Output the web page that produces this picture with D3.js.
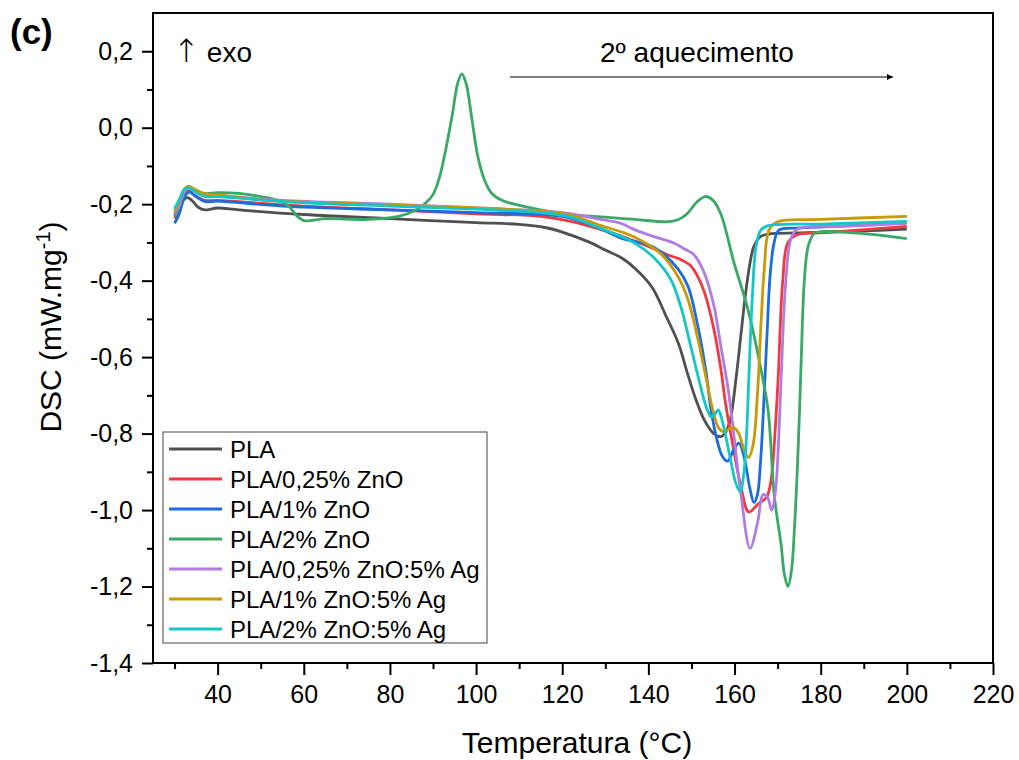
<!DOCTYPE html>
<html>
<head>
<meta charset="utf-8">
<script src="https://cdn.jsdelivr.net/npm/d3@7"></script>
<style>
  body { margin: 0; background: #fff; }
  svg { font-family: "Liberation Sans", Arial, sans-serif; }
</style>
</head>
<body>
<svg width="1019" height="760"></svg>
<script>
// series names and colors
var seriesNames = ["PLA", "PLA/0,25% ZnO", "PLA/1% ZnO", "PLA/2% ZnO",
                   "PLA/0,25% ZnO:5% Ag", "PLA/1% ZnO:5% Ag", "PLA/2% ZnO:5% Ag"];
var seriesColors = ["#505050", "#ef3b3f", "#1c6be0", "#3aa866", "#b07ce4", "#c99a08", "#14c6c8"];

var xTicks = [40, 60, 80, 100, 120, 140, 160, 180, 200, 220];
var xMinor = [30, 50, 70, 90, 110, 130, 150, 170, 190, 210];
var yTicks = [-1.4, -1.2, -1.0, -0.8, -0.6, -0.4, -0.2, 0.0, 0.2];
var yMinor = [-1.3, -1.1, -0.9, -0.7, -0.5, -0.3, -0.1, 0.1];

// [temperature, DSC]
var pla = [[30,-0.228],[31,-0.212],[32,-0.19],[33,-0.183],[34,-0.19],[35.5,-0.208],[37,-0.215],[40,-0.21],
  [45,-0.215],[60,-0.227],[80,-0.238],[100,-0.248],[110,-0.253],[116,-0.261],[120,-0.273],[126,-0.298],
  [130,-0.32],[134,-0.342],[138,-0.38],[141,-0.42],[144,-0.49],[147,-0.565],[149,-0.64],[151,-0.71],
  [153,-0.765],[155,-0.798],[156.8,-0.808],[158,-0.795],[159,-0.765],[160.3,-0.66],[161.5,-0.54],
  [162.5,-0.44],[163.5,-0.36],[164.5,-0.31],[166,-0.285],[168,-0.278],[175,-0.275],[190,-0.27],[200,-0.265]];

var zno025 = [[30,-0.238],[31,-0.215],[32.3,-0.175],[33.3,-0.165],[34.5,-0.175],[37,-0.19],[40,-0.19],
  [60,-0.205],[80,-0.215],[100,-0.225],[115,-0.232],[122,-0.245],[130,-0.27],[136,-0.293],[141,-0.315],
  [145,-0.335],[147,-0.342],[149.7,-0.36],[151.5,-0.39],[153,-0.43],[155.2,-0.527],[156.8,-0.63],
  [157.9,-0.72],[159.6,-0.83],[161.5,-0.94],[163.3,-1.005],[165.4,-0.985],[167.5,-0.965],[168.5,-0.92],
  [169.2,-0.83],[170.1,-0.66],[171.2,-0.4],[172.4,-0.3],[174.6,-0.28],[180,-0.275],[200,-0.258]];

var zno1 = [[30,-0.25],[31,-0.228],[32.4,-0.18],[33.5,-0.168],[34.7,-0.178],[37,-0.193],[40,-0.192],
  [55,-0.205],[80,-0.215],[100,-0.222],[120,-0.232],[128,-0.26],[134,-0.29],[137,-0.298],[139,-0.302],
  [142.9,-0.325],[146.9,-0.37],[149.2,-0.415],[151.5,-0.52],[153.4,-0.64],[154.5,-0.735],[156,-0.82],
  [157.2,-0.86],[158.4,-0.872],[159.7,-0.845],[161,-0.825],[162.2,-0.86],[163.5,-0.94],[164.5,-0.98],
  [165.3,-0.96],[166,-0.88],[166.7,-0.74],[167.5,-0.55],[168.3,-0.38],[169.2,-0.3],[170.3,-0.268],
  [175,-0.262],[190,-0.255],[200,-0.248]];

var zno2 = [[30,-0.232],[31,-0.21],[32.4,-0.165],[33.5,-0.155],[34.7,-0.162],[37,-0.172],[40,-0.17],
  [45,-0.172],[50,-0.18],[54,-0.19],[56.5,-0.205],[58.5,-0.232],[60,-0.243],[62,-0.242],[65,-0.238],
  [75,-0.24],[82,-0.232],[86,-0.215],[88,-0.2],[90,-0.175],[91.5,-0.13],[93,-0.055],[94.5,0.035],
  [95.7,0.115],[96.7,0.141],[97.7,0.115],[99,0.025],[100.4,-0.075],[102,-0.138],[103.5,-0.17],
  [106,-0.19],[110,-0.203],[121,-0.226],[130,-0.234],[137,-0.24],[144.5,-0.246],[147,-0.24],
  [149,-0.225],[151.2,-0.195],[153.2,-0.18],[155,-0.19],[156.8,-0.225],[159.8,-0.35],[163.1,-0.475],
  [166.1,-0.63],[167.8,-0.74],[169.2,-0.96],[170.8,-1.09],[171.6,-1.17],[172.4,-1.2],[173.2,-1.16],
  [173.9,-1.05],[174.8,-0.83],[175.5,-0.6],[176.2,-0.4],[177.1,-0.31],[178.5,-0.276],[180,-0.272],
  [190,-0.277],[200,-0.29]];

var zno025ag = [[30,-0.225],[31,-0.205],[32.4,-0.165],[33.5,-0.158],[34.7,-0.165],[37,-0.177],[40,-0.178],
  [55,-0.19],[80,-0.2],[100,-0.21],[120,-0.222],[129,-0.24],[133.6,-0.25],[136.6,-0.266],[141.3,-0.285],
  [146,-0.302],[148.5,-0.318],[150.4,-0.33],[152.8,-0.375],[155.2,-0.465],[156.8,-0.57],[158.4,-0.675],
  [159.6,-0.78],[160.6,-0.88],[161.5,-0.96],[163.6,-1.1],[165.4,-1.03],[166.6,-0.96],[167.6,-0.965],
  [168.6,-1.0],[169.5,-0.95],[170.1,-0.85],[170.8,-0.66],[171.9,-0.4],[173.1,-0.29],[174.6,-0.265],
  [185,-0.258],[200,-0.25]];

var zno1ag = [[30,-0.22],[31,-0.195],[32.3,-0.16],[33.3,-0.153],[34.5,-0.16],[36.7,-0.172],[40,-0.176],
  [52,-0.19],[80,-0.202],[105,-0.212],[121.3,-0.227],[129,-0.256],[136.6,-0.285],[142.9,-0.33],
  [146.9,-0.39],[149.2,-0.45],[151.5,-0.553],[153.4,-0.655],[155,-0.74],[156.3,-0.785],[157.5,-0.795],
  [158.7,-0.788],[159.9,-0.785],[161,-0.8],[162.3,-0.845],[163.3,-0.862],[164.3,-0.83],[165.3,-0.7],
  [166.2,-0.5],[166.9,-0.37],[168,-0.268],[170,-0.246],[180,-0.24],[200,-0.232]];

var zno2ag = [[30,-0.212],[31,-0.19],[32.2,-0.163],[33.2,-0.157],[34.4,-0.165],[37,-0.18],[40,-0.18],
  [55,-0.193],[80,-0.205],[100,-0.213],[115,-0.222],[121.3,-0.232],[129,-0.264],[136.6,-0.3],[141.3,-0.34],
  [145.2,-0.397],[147.5,-0.467],[149.8,-0.57],[151.7,-0.658],[153.6,-0.736],[154.7,-0.757],[155.5,-0.748],
  [156.2,-0.738],[157,-0.76],[159.2,-0.875],[160.3,-0.93],[161.3,-0.952],[162.2,-0.9],[162.8,-0.8],
  [163.3,-0.66],[164.1,-0.45],[165,-0.31],[166.1,-0.268],[167.8,-0.256],[180,-0.252],[200,-0.245]];

var seriesData = [pla, zno025, zno1, zno2, zno025ag, zno1ag, zno2ag];

var L = 153, R = 993, T = 13, B = 663;
var svg = d3.select("svg");

var x = d3.scaleLinear().domain([25, 220]).range([L, R]);
var y = d3.scaleLinear().domain([-1.4, 0.3]).range([B, T]);

var comma = function (d) { return d3.format(".1f")(d).replace(".", ",").replace("\u2212", "-"); };

// curves
var line = d3.line()
    .x(function (d) { return x(d[0]); })
    .y(function (d) { return y(d[1]); })
    .curve(d3.curveCatmullRom.alpha(0.5));

seriesData.forEach(function (s, i) {
    svg.append("path")
        .attr("d", line(s))
        .attr("fill", "none")
        .attr("stroke", seriesColors[i])
        .attr("stroke-width", 2.8)
        .attr("stroke-linejoin", "round");
});

// axes
var xAxis = svg.append("g").attr("transform", "translate(0," + B + ")")
    .call(d3.axisBottom(x).tickValues(xTicks).tickSize(12).tickPadding(10).tickFormat(d3.format("d")));
var xAxisMinor = svg.append("g").attr("transform", "translate(0," + B + ")")
    .call(d3.axisBottom(x).tickValues(xMinor).tickSize(6).tickFormat(""));
var yAxis = svg.append("g").attr("transform", "translate(" + L + ",0)")
    .call(d3.axisLeft(y).tickValues(yTicks).tickSize(11).tickPadding(9).tickFormat(comma));
var yAxisMinor = svg.append("g").attr("transform", "translate(" + L + ",0)")
    .call(d3.axisLeft(y).tickValues(yMinor).tickSize(6).tickFormat(""));

[xAxis, xAxisMinor, yAxis, yAxisMinor].forEach(function (a) {
    a.select(".domain").remove();
    a.selectAll("line").attr("stroke", "#000").attr("stroke-width", 2);
    a.selectAll("text").attr("font-size", 25).attr("fill", "#000")
        .attr("font-family", "'Liberation Sans', Arial, sans-serif");
});

// frame
svg.append("rect")
    .attr("x", L).attr("y", T).attr("width", R - L).attr("height", B - T)
    .attr("fill", "none").attr("stroke", "#000").attr("stroke-width", 2);

// axis titles
svg.append("text")
    .attr("x", 577).attr("y", 753)
    .attr("text-anchor", "middle").attr("font-size", 30)
    .text("Temperatura (°C)");

var yt = svg.append("text")
    .attr("transform", "translate(61,327) rotate(-90)")
    .attr("text-anchor", "middle").attr("font-size", 30);
yt.append("tspan").text("DSC (mW.mg");
yt.append("tspan").attr("dy", -11).attr("font-size", 20).text("-1");
yt.append("tspan").attr("dy", 11).text(")");

// annotations
svg.append("text").attr("x", 10).attr("y", 44)
    .attr("font-size", 35).attr("font-weight", "bold").text("(c)");
var exo = svg.append("text").attr("x", 173).attr("y", 62).attr("font-size", 28);
exo.append("tspan").attr("font-size", 32).attr("font-family", "'DejaVu Sans', sans-serif")
    .attr("font-weight", 200).text("\u2191");
exo.append("tspan").attr("dx", 7).text("exo");
svg.append("text").attr("x", 697).attr("y", 62)
    .attr("text-anchor", "middle").attr("font-size", 28).text("2º aquecimento");

svg.append("defs").append("marker")
    .attr("id", "ah").attr("viewBox", "0 0 10 10")
    .attr("refX", 10).attr("refY", 5)
    .attr("markerWidth", 15).attr("markerHeight", 6)
    .attr("markerUnits", "userSpaceOnUse")
    .attr("orient", "auto")
    .append("path").attr("d", "M0,0 L10,5 L0,10 z").attr("fill", "#000");
svg.append("line")
    .attr("x1", 510).attr("x2", 893).attr("y1", 77).attr("y2", 77)
    .attr("stroke", "#000").attr("stroke-width", 1.2)
    .attr("marker-end", "url(#ah)");

// legend
var lg = svg.append("g").attr("transform", "translate(163,432)");
lg.append("rect").attr("width", 324).attr("height", 211)
    .attr("fill", "#fff").attr("stroke", "#444").attr("stroke-width", 1);
seriesNames.forEach(function (n, i) {
    var yy = 17 + i * 30;
    lg.append("line").attr("x1", 6).attr("x2", 59).attr("y1", yy).attr("y2", yy)
        .attr("stroke", seriesColors[i]).attr("stroke-width", 3);
    lg.append("text").attr("x", 67).attr("y", yy + 8.5)
        .attr("font-size", 24).text(n);
});
</script>
</body>
</html>
